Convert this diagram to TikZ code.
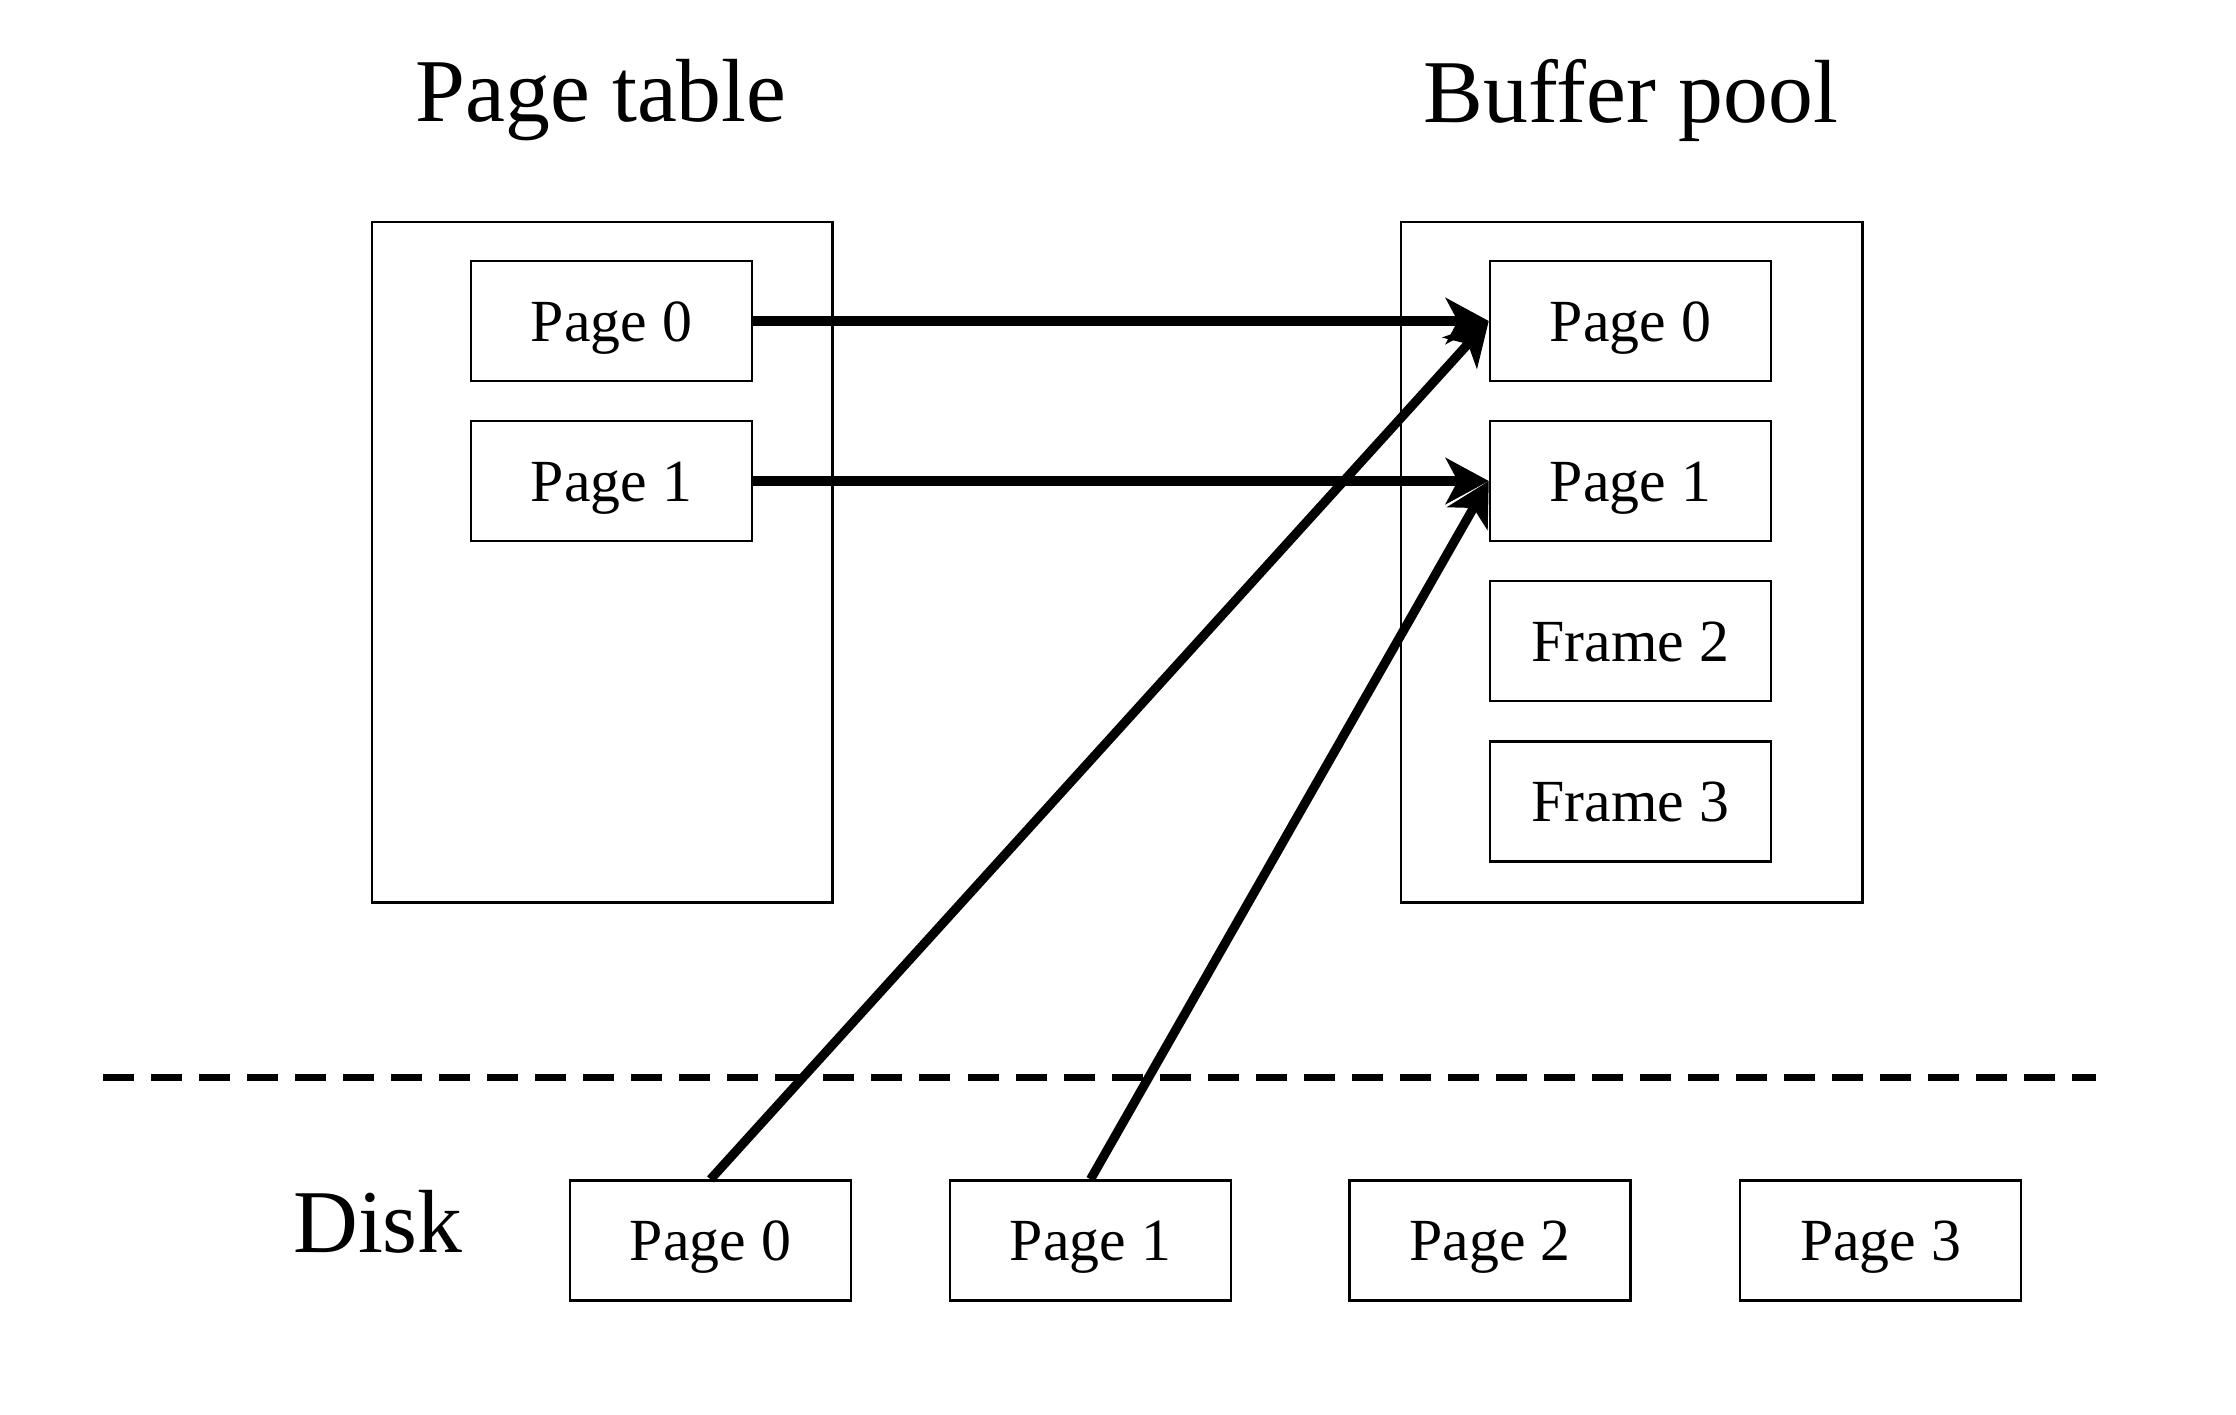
\documentclass[tikz,border=0pt]{standalone}
\usepackage{fontspec}
\setmainfont{Liberation Serif}
\usetikzlibrary{arrows.meta}
\begin{document}
\begin{tikzpicture}[x=0.01cm,y=-0.01cm,
  bigbox/.style={draw,line width=0.65pt,inner sep=0pt,anchor=north west},
  smallbox/.style={draw,line width=0.65pt,inner sep=0pt,minimum width=2.81cm,minimum height=1.2cm,text height=0.42cm,text depth=0.02cm,font=\fontsize{17}{20}\selectfont},
  title/.style={font=\fontsize{25.5}{30}\selectfont},
  arr/.style={line width=2.6pt,-{Stealth[length=0.43cm,width=0.46cm,inset=0.12cm]}}]
\useasboundingbox (0,0) rectangle (2236,1414);
% titles
\node[title] (tpt) at (601,100) {Page table};
\node[title] (tbp) at (1631,100) {Buffer pool};
% big boxes
\node[bigbox,minimum width=4.6cm,minimum height=6.8cm] (ptbox) at (371,221) {};
\node[bigbox,minimum width=4.61cm,minimum height=6.8cm] (bpbox) at (1400,221) {};
% page table entries
\node[smallbox] (pt0) at (611.5,321) {Page 0};
\node[smallbox] (pt1) at (611.5,481) {Page 1};
% buffer pool frames
\node[smallbox] (bp0) at (1630.5,321) {Page 0};
\node[smallbox] (bp1) at (1630.5,481) {Page 1};
\node[smallbox] (bp2) at (1630.5,641) {Frame 2};
\node[smallbox] (bp3) at (1630.5,801.5) {Frame 3};
% dashed separator
\coordinate (dl) at (103,1077);
\coordinate (dr) at (2096,1077);
\draw[line width=2pt,dash pattern=on 0.31cm off 0.17cm] (dl) -- (dr);
% disk
\node[title] (disk) at (378,1222) {Disk};
\node[smallbox] (d0) at (710.5,1240.5) {Page 0};
\node[smallbox] (d1) at (1090.5,1240.5) {Page 1};
\node[smallbox] (d2) at (1490,1240.5) {Page 2};
\node[smallbox] (d3) at (1880.5,1240.5) {Page 3};
% arrows
\draw[arr] (pt0.east) -- (bp0.west);
\draw[arr] (pt1.east) -- (bp1.west);
\draw[arr] (d0.north) -- (bp0.west);
\draw[arr] (d1.north) -- (bp1.west);
\end{tikzpicture}
\end{document}
